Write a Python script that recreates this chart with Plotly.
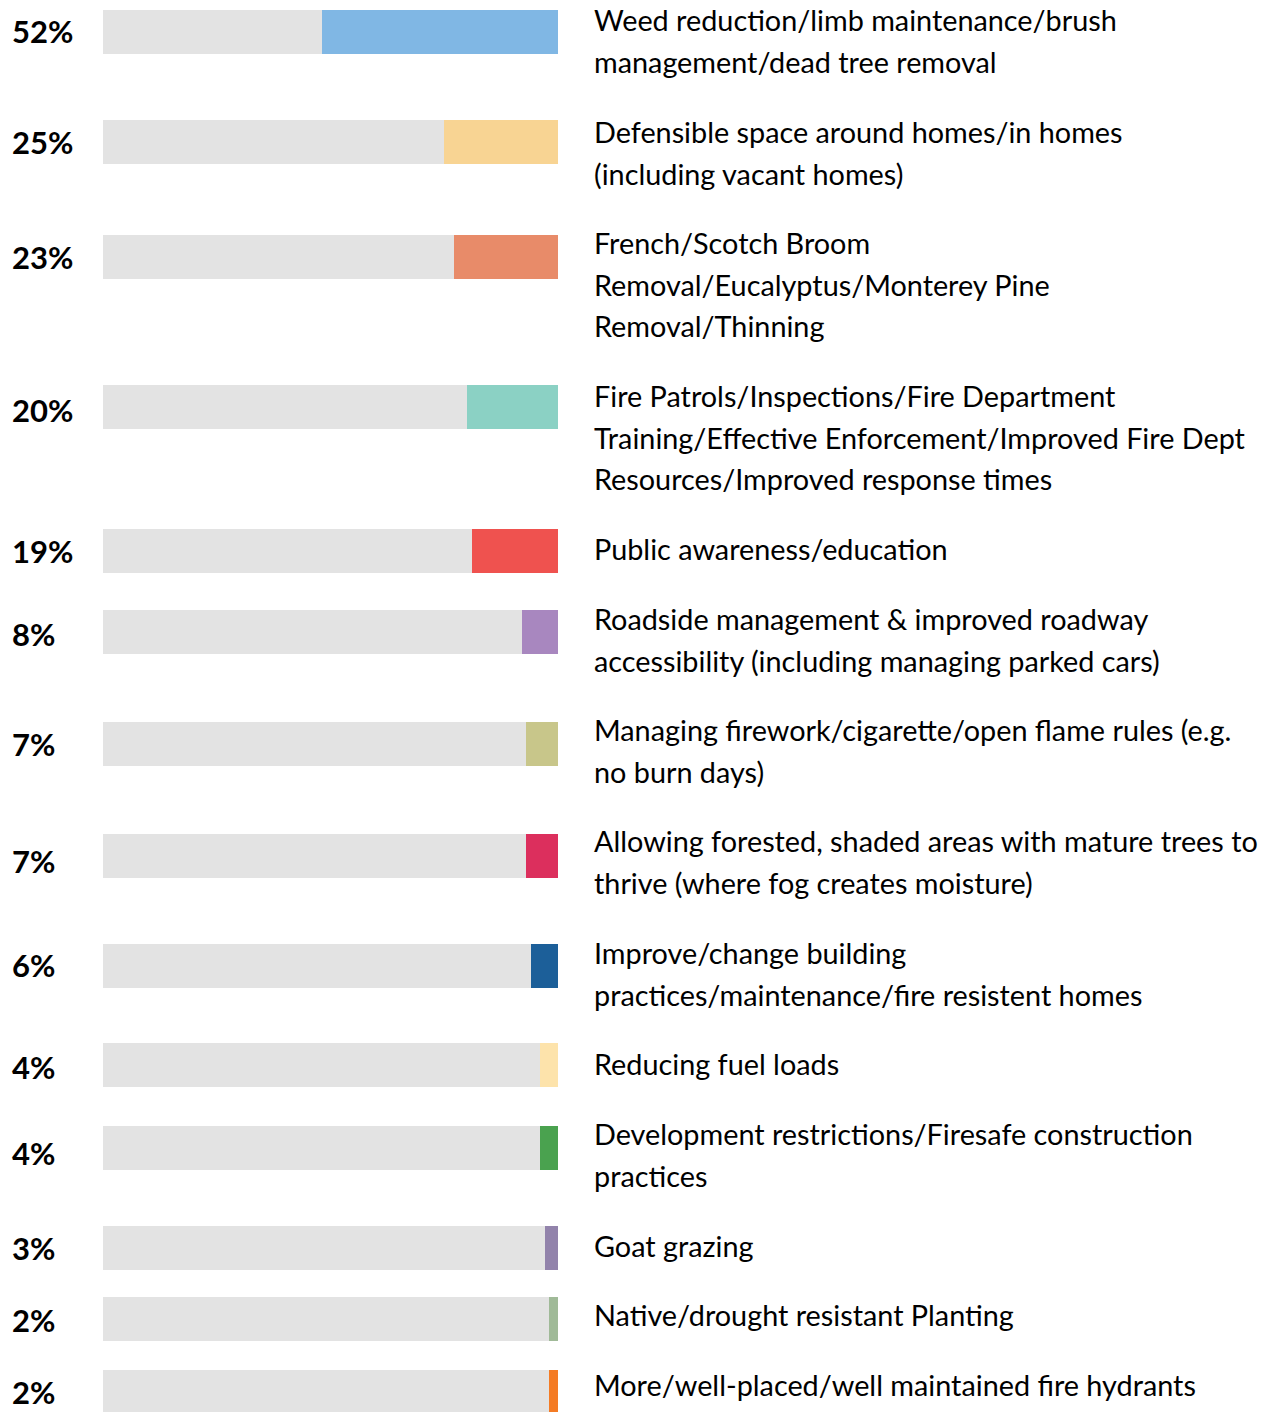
import plotly.graph_objects as go

# Survey results: share of respondents naming each wildfire-prevention measure
measures = [
    ["Weed reduction/limb maintenance/brush", "management/dead tree removal"],
    ["Defensible space around homes/in homes", "(including vacant homes)"],
    ["French/Scotch Broom", "Removal/Eucalyptus/Monterey Pine", "Removal/Thinning"],
    ["Fire Patrols/Inspections/Fire Department",
     "Training/Effective Enforcement/Improved Fire Dept",
     "Resources/Improved response times"],
    ["Public awareness/education"],
    ["Roadside management & improved roadway",
     "accessibility (including managing parked cars)"],
    ["Managing firework/cigarette/open flame rules (e.g.", "no burn days)"],
    ["Allowing forested, shaded areas with mature trees to",
     "thrive (where fog creates moisture)"],
    ["Improve/change building", "practices/maintenance/fire resistent homes"],
    ["Reducing fuel loads"],
    ["Development restrictions/Firesafe construction", "practices"],
    ["Goat grazing"],
    ["Native/drought resistant Planting"],
    ["More/well-placed/well maintained fire hydrants"],
]
percent = [52, 25, 23, 20, 19, 8, 7, 7, 6, 4, 4, 3, 2, 2]

colors = ["#80b7e4", "#f8d493", "#e88b69", "#8bd1c4", "#ef524f", "#a887bf",
          "#c8c68a", "#dc2f5d", "#1c5f99", "#fde3ab", "#4aa24f", "#9283ab",
          "#a0ba98", "#f47b24"]

# Page layout (pixels from the top): bar centres, first text line, % label
W, H = 1276, 1412
row_y = [32, 142, 257, 407, 551, 632, 744, 856, 966, 1065, 1148, 1248, 1319, 1392]
text_y = [20, 132, 243, 396, 549, 619, 730, 841, 953, 1064, 1134, 1246, 1315, 1385]
pct_y = [31, 142, 257, 410, 551, 634, 744, 861, 965, 1067, 1153, 1248, 1320, 1392]
line_gap = 41.5
track_left, track_right = 103, 558.3
bar_h = 44.5

fig = go.Figure()

# grey 100% track behind every bar
fig.add_trace(go.Bar(
    x=[100] * len(percent), y=row_y, base=0, orientation="h",
    width=bar_h, marker=dict(color="#e3e3e3", line=dict(width=0)),
    hoverinfo="skip", showlegend=False,
))
# coloured share, anchored to the right end of the track
fig.add_trace(go.Bar(
    x=percent, y=row_y, base=[100 - p for p in percent], orientation="h",
    width=bar_h, marker=dict(color=colors, line=dict(width=0)),
    showlegend=False,
))

annotations = []
for p, py in zip(percent, pct_y):
    annotations.append(dict(
        x=10 / W, xref="paper", y=py, yref="y", text=f"<b>{p}%</b>",
        showarrow=False, xanchor="left", yanchor="middle",
        font=dict(family="Lato", size=31, color="#000000"),
    ))
for lines, ty in zip(measures, text_y):
    for i, line in enumerate(lines):
        annotations.append(dict(
            x=592 / W, xref="paper", y=ty + i * line_gap, yref="y", text=line,
            showarrow=False, xanchor="left", yanchor="middle",
            font=dict(family="Lato", size=28.8, color="#000000"),
        ))

fig.update_layout(
    width=W, height=H,
    margin=dict(l=0, r=0, t=0, b=0),
    paper_bgcolor="white", plot_bgcolor="white",
    barmode="overlay", bargap=0,
    xaxis=dict(domain=[track_left / W, track_right / W], range=[0, 100],
               visible=False, fixedrange=True),
    yaxis=dict(range=[H, 0], visible=False, fixedrange=True),
    annotations=annotations,
)

fig.write_html("out.html")
